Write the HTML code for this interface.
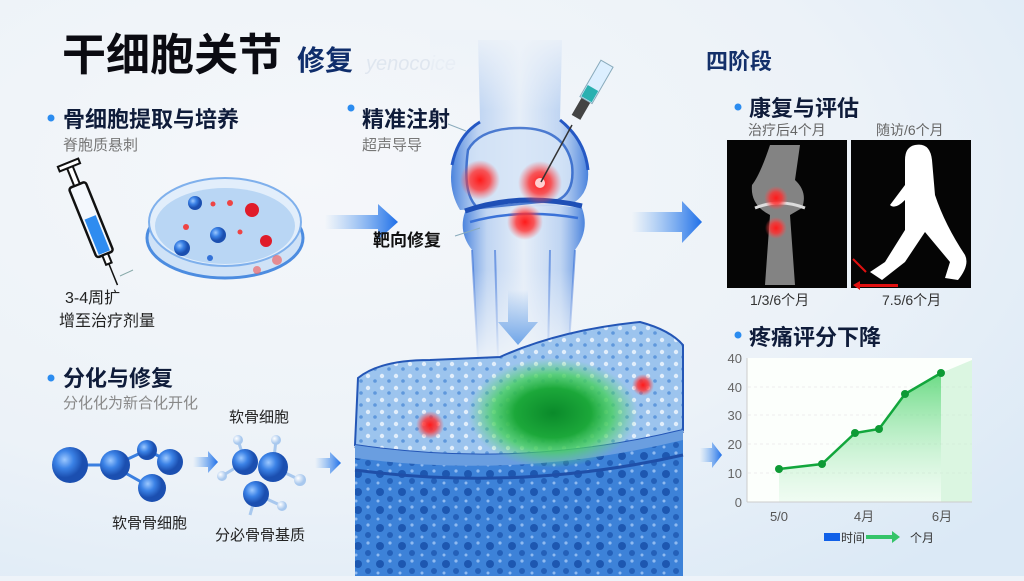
<!DOCTYPE html>
<html><head><meta charset="utf-8"><style>
html,body{margin:0;padding:0;}
body{width:1024px;height:576px;overflow:hidden;background:#eef3f9;font-family:"Liberation Sans","Noto Sans CJK SC",sans-serif;}
svg text{font-family:"Liberation Sans","Noto Sans CJK SC",sans-serif;}
</style></head><body>
<svg width="1024" height="576" viewBox="0 0 1024 576" xmlns="http://www.w3.org/2000/svg">
<defs>
<radialGradient id="bg" cx="0.3" cy="0.3" r="0.9"><stop offset="0" stop-color="#f5f7fa"/><stop offset="0.6" stop-color="#ecf2f8"/><stop offset="1" stop-color="#dbe9f6"/></radialGradient>
<linearGradient id="arr" x1="0" x2="1"><stop offset="0" stop-color="#5aa0f0" stop-opacity="0"/><stop offset="1" stop-color="#1f6fe8"/></linearGradient>
<linearGradient id="darr" x1="0" y1="0" x2="0" y2="1"><stop offset="0" stop-color="#6fa5e8" stop-opacity="0"/><stop offset="1" stop-color="#6fa5e8"/></linearGradient>
<radialGradient id="red"><stop offset="0" stop-color="#ff1a1a"/><stop offset="0.5" stop-color="#ff3030" stop-opacity="0.8"/><stop offset="1" stop-color="#ff5050" stop-opacity="0"/></radialGradient>
<radialGradient id="green"><stop offset="0" stop-color="#0a8a2a"/><stop offset="0.45" stop-color="#1ca83a"/><stop offset="0.7" stop-color="#48d060" stop-opacity="0.8"/><stop offset="1" stop-color="#60d878" stop-opacity="0"/></radialGradient>
<radialGradient id="ball" cx="0.35" cy="0.35"><stop offset="0" stop-color="#9cc8ff"/><stop offset="0.5" stop-color="#3b82e6"/><stop offset="1" stop-color="#1b4fb0"/></radialGradient>
<radialGradient id="lball" cx="0.35" cy="0.35"><stop offset="0" stop-color="#fff"/><stop offset="1" stop-color="#a8c8ee"/></radialGradient>
<linearGradient id="bone" x1="0" x2="1"><stop offset="0" stop-color="#2d6fd8" stop-opacity="0.85"/><stop offset="0.2" stop-color="#9fc0ee" stop-opacity="0.6"/><stop offset="0.5" stop-color="#dfeaf8" stop-opacity="0.6"/><stop offset="0.8" stop-color="#9fc0ee" stop-opacity="0.6"/><stop offset="1" stop-color="#2d6fd8" stop-opacity="0.85"/></linearGradient>
<linearGradient id="topfade" x1="0" y1="0" x2="0" y2="1"><stop offset="0" stop-color="#eef3f9" stop-opacity="1"/><stop offset="1" stop-color="#eef3f9" stop-opacity="0"/></linearGradient>
<linearGradient id="botfade" x1="0" y1="0" x2="0" y2="1"><stop offset="0" stop-color="#eef3f9" stop-opacity="0"/><stop offset="1" stop-color="#eef3f9" stop-opacity="1"/></linearGradient>
<linearGradient id="chartfill" x1="0" y1="0" x2="0" y2="1"><stop offset="0" stop-color="#52d470" stop-opacity="0.85"/><stop offset="1" stop-color="#bff0cc" stop-opacity="0.2"/></linearGradient>
<pattern id="pores" width="22" height="18" patternUnits="userSpaceOnUse"><rect width="22" height="18" fill="#3d82d8"/><circle cx="6" cy="6" r="4" fill="#1d57b0"/><circle cx="16" cy="13" r="3" fill="#2460b8"/><circle cx="16" cy="3" r="1.6" fill="#8fbaf0"/><circle cx="4" cy="15" r="1.5" fill="#8fbaf0"/></pattern>
<pattern id="pores2" width="14" height="12" patternUnits="userSpaceOnUse"><rect width="14" height="12" fill="#9cc4ee"/><circle cx="4" cy="4" r="2.2" fill="#e2eefb"/><circle cx="11" cy="9" r="1.8" fill="#5f98dc"/></pattern>
</defs>
<rect width="1024" height="576" fill="url(#bg)"/>

<!-- Title -->
<text x="62" y="70" font-size="44" font-weight="bold" fill="#0b0b12">干细胞关节</text>
<text x="297" y="70" font-size="28" font-weight="bold" fill="#0f2d6b">修复</text>
<text x="366" y="70" font-size="20" font-style="italic" fill="#dfe6ef">yenocoice</text>
<text x="706" y="69" font-size="22" font-weight="bold" fill="#14306a">四阶段</text>

<!-- Section 1 -->
<circle cx="51" cy="118" r="3.5" fill="#2b8cf0"/>
<text x="63" y="127" font-size="22" font-weight="bold" fill="#0f1c3a">骨细胞提取与培养</text>
<text x="63" y="150" font-size="15" fill="#777">脊胞质悬刺</text>
<g transform="translate(92,222) rotate(-22)">
<rect x="-9" y="-40" width="18" height="75" rx="3" fill="#f4f8fd" stroke="#111" stroke-width="2.5"/>
<rect x="-6" y="-5" width="12" height="38" fill="#2f8cf0"/>
<rect x="-3" y="-60" width="6" height="20" fill="#fff" stroke="#111" stroke-width="2"/>
<rect x="-11" y="-64" width="22" height="5" fill="#fff" stroke="#111" stroke-width="2"/>
<rect x="-3" y="35" width="6" height="10" fill="#fff" stroke="#111" stroke-width="2"/>
<line x1="0" y1="45" x2="0" y2="68" stroke="#111" stroke-width="1.5"/>
</g>
<line x1="120" y1="276" x2="133" y2="270" stroke="#8aa" stroke-width="1"/>
<ellipse cx="225" cy="238" rx="78" ry="40" fill="#cfe2f7" stroke="#4c8ce0" stroke-width="3"/>
<ellipse cx="225" cy="222" rx="76" ry="44" fill="#e2eefb" stroke="#7fb0ec" stroke-width="2"/>
<ellipse cx="225" cy="226" rx="70" ry="38" fill="#b9d6f4"/>
<circle cx="195" cy="203" r="7" fill="url(#ball)"/><circle cx="218" cy="235" r="8" fill="url(#ball)"/>
<circle cx="182" cy="248" r="8" fill="url(#ball)"/><circle cx="252" cy="210" r="7" fill="#e01c2a"/>
<circle cx="266" cy="241" r="6" fill="#e01c2a"/><circle cx="213" cy="204" r="2.5" fill="#e44"/>
<circle cx="186" cy="227" r="3" fill="#e44"/><circle cx="230" cy="203" r="3" fill="#e44"/>
<circle cx="240" cy="232" r="2.5" fill="#e44"/><circle cx="210" cy="258" r="3" fill="#3372d8"/>
<circle cx="277" cy="260" r="5" fill="#e66" opacity="0.7"/><circle cx="257" cy="270" r="4" fill="#e66" opacity="0.7"/>
<text x="65" y="303" font-size="16" fill="#222">3-4周扩</text>
<text x="59" y="326" font-size="16" fill="#222">增至治疗剂量</text>
<path d="M325 215 H378 V204 L398 222 L378 240 V229 H325 Z" fill="url(#arr)"/>

<!-- Knee -->
<path d="M478 40 L562 40 L560 120 Q585 140 588 170 Q590 195 570 205 L460 210 Q448 190 452 165 Q458 135 480 120 Z" fill="url(#bone)"/>
<path d="M465 212 Q520 200 582 208 Q590 230 575 250 L568 360 L478 360 L472 250 Q458 232 465 212 Z" fill="url(#bone)"/>
<path d="M452 165 Q458 135 480 122 M560 120 Q585 140 588 170" fill="none" stroke="#2558c4" stroke-width="3"/>
<path d="M468 150 Q480 128 520 128 Q565 128 572 165 Q575 192 558 200 Q520 204 478 208 Q462 195 468 150 Z" fill="#d6e5f7" stroke="#2b62c8" stroke-width="2.5" opacity="0.8"/>
<path d="M465 211 Q520 192 582 206" fill="none" stroke="#1e4fb6" stroke-width="5"/>
<path d="M470 222 Q520 208 578 218" fill="none" stroke="#3a72d8" stroke-width="2.5"/>
<path d="M472 250 L478 360 M575 250 L568 360 M495 250 L498 360 M550 250 L548 360" stroke="#3a72d8" stroke-width="2" opacity="0.6"/>
<rect x="430" y="30" width="180" height="80" fill="url(#topfade)"/>
<rect x="430" y="270" width="180" height="95" fill="url(#botfade)"/>
<circle cx="480" cy="180" r="20" fill="url(#red)"/>
<circle cx="540" cy="183" r="22" fill="url(#red)"/>
<circle cx="540" cy="183" r="5" fill="#ffd0d0"/>
<circle cx="525" cy="222" r="18" fill="url(#red)"/>
<line x1="541" y1="182" x2="572" y2="125" stroke="#333" stroke-width="1.5"/>
<g transform="translate(582,107) rotate(30)">
<rect x="-5" y="-10" width="10" height="22" fill="#444"/>
<rect x="-7" y="-50" width="14" height="42" fill="#dcefff" stroke="#8ab" stroke-width="1"/>
<rect x="-6" y="-22" width="12" height="13" fill="#2ab0b0"/>
</g>
<circle cx="351" cy="108" r="3.5" fill="#2b8cf0"/>
<text x="362" y="127" font-size="22" font-weight="bold" fill="#0f1c3a">精准注射</text>
<text x="362" y="150" font-size="15" fill="#777">超声导导</text>
<line x1="448" y1="124" x2="466" y2="131" stroke="#8ab" stroke-width="1"/>
<text x="373" y="246" font-size="17" font-weight="bold" fill="#111">靶向修复</text>
<line x1="455" y1="236" x2="480" y2="228" stroke="#8ab" stroke-width="1"/>
<path d="M508 290 H528 V322 H538 L518 345 L498 322 H508 Z" fill="url(#darr)"/>

<!-- cartilage block -->
<path d="M355 440 L355 576 L683 576 L683 440 Z" fill="url(#pores)"/>
<path d="M355 445 Q520 470 683 430" fill="none" stroke="#1f4fa8" stroke-width="6"/>
<path d="M358 378 Q380 360 430 360 Q480 358 500 357 Q560 330 640 322 Q670 330 683 345 L683 430 Q520 470 355 445 Z" fill="url(#pores2)" stroke="#2456b6" stroke-width="2"/>
<path d="M355 445 Q520 470 683 430 L683 440 Q520 480 355 458 Z" fill="#6a9ee0"/>
<ellipse cx="553" cy="413" rx="85" ry="55" fill="url(#green)"/>
<circle cx="430" cy="425" r="14" fill="url(#red)"/>
<circle cx="643" cy="385" r="11" fill="url(#red)"/>
<path d="M355 470 Q520 492 683 455" fill="none" stroke="#1f4fa8" stroke-width="3"/>

<path d="M632 212 H682 V201 L702 222 L682 243 V232 H632 Z" fill="url(#arr)"/>

<!-- rehab -->
<circle cx="738" cy="107" r="3.5" fill="#2b8cf0"/>
<text x="749" y="116" font-size="22" font-weight="bold" fill="#0f1c3a">康复与评估</text>
<text x="748" y="135" font-size="14" fill="#666">治疗后4个月</text>
<text x="876" y="135" font-size="14" fill="#666">随访/6个月</text>
<rect x="727" y="140" width="120" height="148" fill="#050505"/>
<path d="M770 145 L800 145 L795 180 Q808 192 802 208 L790 215 L795 285 L765 285 L770 215 Q750 205 752 185 Q760 175 770 145 Z" fill="#9a9a9a" opacity="0.85"/>
<path d="M755 208 Q780 198 805 208" stroke="#ddd" stroke-width="3" fill="none"/>
<circle cx="776" cy="198" r="12" fill="url(#red)"/>
<circle cx="776" cy="228" r="11" fill="url(#red)"/>
<rect x="851" y="140" width="120" height="148" fill="#050505"/>
<path d="M915 145 Q930 142 932 160 L935 195 Q945 225 965 255 Q970 265 958 280 L945 278 L950 262 L925 232 L905 262 L882 280 L870 272 L885 262 L905 230 L905 200 Q895 210 890 205 L905 185 L905 160 Q905 147 915 145 Z" fill="#fff"/>
<line x1="853" y1="259" x2="866" y2="272" stroke="#e01010" stroke-width="2"/>
<path d="M853 285 L860 281 L860 284 L898 284 L898 287 L860 287 L860 290 Z" fill="#e01010"/>
<text x="750" y="305" font-size="14" fill="#333">1/3/6个月</text>
<text x="882" y="305" font-size="14" fill="#333">7.5/6个月</text>

<circle cx="738" cy="335" r="3.5" fill="#2b8cf0"/>
<text x="749" y="345" font-size="22" font-weight="bold" fill="#0f1c3a">疼痛评分下降</text>
<rect x="747" y="358" width="225" height="144" fill="#fcfffc"/>
<g stroke="#eee" stroke-width="1" stroke-dasharray="3 3">
<line x1="748" y1="387" x2="972" y2="387"/><line x1="748" y1="415" x2="972" y2="415"/><line x1="748" y1="444" x2="972" y2="444"/><line x1="748" y1="473" x2="972" y2="473"/></g>
<path d="M779 469 L822 464 L855 433 L879 429 L905 394 L941 373 L941 502 L779 502 Z" fill="url(#chartfill)"/>
<path d="M941 373 L972 360 L972 502 L941 502 Z" fill="#c4f0cf" opacity="0.6"/>
<polyline points="779,469 822,464 855,433 879,429 905,394 941,373" fill="none" stroke="#12a63c" stroke-width="2.5"/>
<g fill="#0e9a35"><circle cx="779" cy="469" r="4"/><circle cx="822" cy="464" r="4"/><circle cx="855" cy="433" r="4"/><circle cx="879" cy="429" r="4"/><circle cx="905" cy="394" r="4"/><circle cx="941" cy="373" r="4"/></g>
<line x1="747" y1="358" x2="747" y2="502" stroke="#ccc"/><line x1="747" y1="502" x2="972" y2="502" stroke="#ccc"/>
<g font-size="13" fill="#666" text-anchor="end">
<text x="742" y="363">40</text><text x="742" y="392">40</text><text x="742" y="420">30</text><text x="742" y="449">20</text><text x="742" y="478">10</text><text x="742" y="507">0</text></g>
<g font-size="13" fill="#555" text-anchor="middle"><text x="779" y="521">5/0</text><text x="864" y="521">4月</text><text x="942" y="521">6月</text></g>
<rect x="824" y="533" width="16" height="8" fill="#1060e8"/>
<text x="841" y="542" font-size="12" fill="#333">时间</text>
<path d="M866 535 H892 V531 L900 537 L892 543 V539 H866 Z" fill="#22c05a" opacity="0.9"/>
<text x="910" y="542" font-size="12" fill="#333">个月</text>
<path d="M700 448 H712 V442 L722 455 L712 468 V462 H700 Z" fill="url(#arr)"/>

<!-- differentiation -->
<circle cx="51" cy="378" r="3.5" fill="#2b8cf0"/>
<text x="63" y="386" font-size="22" font-weight="bold" fill="#0f1c3a">分化与修复</text>
<text x="63" y="408" font-size="15" fill="#888">分化化为新合化开化</text>
<g stroke="#3a7fe0" stroke-width="3">
<line x1="70" y1="465" x2="115" y2="465"/><line x1="115" y1="465" x2="147" y2="450"/><line x1="147" y1="450" x2="170" y2="462"/><line x1="120" y1="470" x2="152" y2="488"/></g>
<circle cx="70" cy="465" r="18" fill="url(#ball)"/><circle cx="115" cy="465" r="15" fill="url(#ball)"/>
<circle cx="147" cy="450" r="10" fill="url(#ball)"/><circle cx="170" cy="462" r="13" fill="url(#ball)"/>
<circle cx="152" cy="488" r="14" fill="url(#ball)"/>
<text x="112" y="528" font-size="15" fill="#222">软骨骨细胞</text>
<path d="M193 457 H208 V451 L218 462 L208 473 V467 H193 Z" fill="url(#arr)"/>
<g stroke="#a8c8ee" stroke-width="3">
<line x1="245" y1="462" x2="238" y2="440"/><line x1="273" y1="467" x2="276" y2="440"/><line x1="273" y1="467" x2="300" y2="480"/><line x1="245" y1="462" x2="222" y2="476"/><line x1="256" y1="494" x2="282" y2="506"/><line x1="256" y1="494" x2="250" y2="515"/></g>
<circle cx="238" cy="440" r="5" fill="url(#lball)"/><circle cx="276" cy="440" r="5" fill="url(#lball)"/><circle cx="300" cy="480" r="6" fill="url(#lball)"/><circle cx="222" cy="476" r="5" fill="url(#lball)"/><circle cx="282" cy="506" r="5" fill="url(#lball)"/>
<circle cx="245" cy="462" r="13" fill="url(#ball)"/><circle cx="273" cy="467" r="15" fill="url(#ball)"/><circle cx="256" cy="494" r="13" fill="url(#ball)"/>
<text x="229" y="422" font-size="15" fill="#222">软骨细胞</text>
<text x="215" y="540" font-size="15" fill="#222">分必骨骨基质</text>
<path d="M315 458 H330 V452 L341 463 L330 474 V468 H315 Z" fill="url(#arr)"/>
</svg>
</body></html>
